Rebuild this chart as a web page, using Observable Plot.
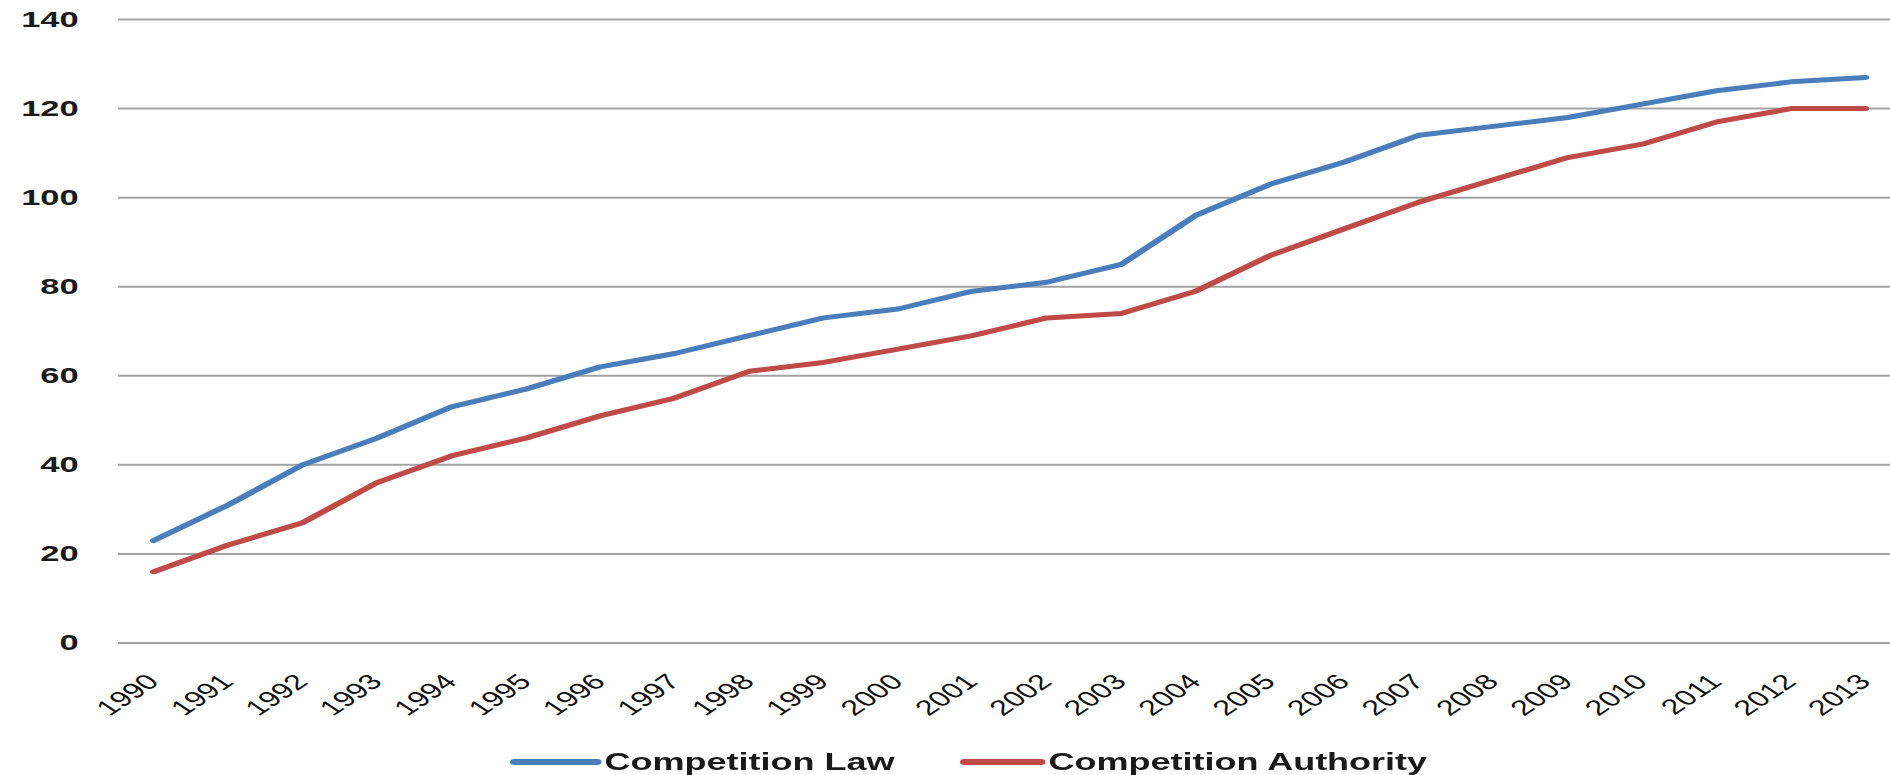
<!DOCTYPE html>
<html>
<head>
<meta charset="utf-8">
<script src="https://cdn.jsdelivr.net/npm/d3@7"></script>
<script src="https://cdn.jsdelivr.net/npm/@observablehq/plot@0.6"></script>
<style>
  html, body { margin: 0; padding: 0; background: #fff; overflow: hidden; }
  #outer { width: 1890px; height: 775px; position: relative; overflow: hidden; }
  /* the original figure is horizontally stretched by 1.5: draw at 1260px and widen */
  #wrap { width: 1260px; height: 775px; position: absolute; left: 0; top: 0;
          transform: scaleX(1.5); transform-origin: 0 0; }
  #legend { position: absolute; left: 0; top: 749px; width: 1260px; height: 26px;
    font-family: "Liberation Sans", Arial, sans-serif; font-weight: bold; font-size: 24px; line-height: 26px; color: #1a1a1a; }
  .item { position: absolute; top: 0; display: flex; align-items: center; height: 26px; white-space: nowrap; }
  .sw { height: 6px; border-radius: 3px; margin-right: 2px; }
</style>
</head>
<body>
<div id="outer">
  <div id="wrap">
    <div id="chart"></div>
    <div id="legend"></div>
  </div>
</div>
<script>
const years = [1990,1991,1992,1993,1994,1995,1996,1997,1998,1999,2000,2001,2002,2003,2004,2005,2006,2007,2008,2009,2010,2011,2012,2013];
const competitionLaw = [23,31,40,46,53,57,62,65,69,73,75,79,81,85,96,103,108,114,116,118,121,124,126,127];
const competitionAuthority = [16,22,27,36,42,46,51,55,61,63,66,69,73,74,79,87,93,99,104,109,112,117,120,120];
const yTicks = [0,20,40,60,80,100,120,140];
const seriesNames = ["Competition Law","Competition Authority"];
const seriesColors = ["#4a7ebb","#be4b48"];

const rows = years.flatMap((yr, i) => [
  {year: yr, value: competitionLaw[i], series: seriesNames[0]},
  {year: yr, value: competitionAuthority[i], series: seriesNames[1]}
]);

const chart = Plot.plot({
  width: 1260,
  height: 735,
  marginLeft: 78.67,
  marginRight: 0,
  marginTop: 19,
  marginBottom: 92.5,
  style: {fontFamily: "'Liberation Sans', Arial, sans-serif", background: "#fff", overflow: "visible"},
  x: {type: "linear", domain: [1989.53, 2013.34], axis: null},
  y: {domain: [0, 140], axis: null},
  color: {domain: seriesNames, range: seriesColors},
  marks: [
    Plot.ruleY(yTicks, {stroke: "#a3a3a3", strokeWidth: 2}),
    Plot.text(yTicks, {y: d => d, text: d => String(d), frameAnchor: "left", textAnchor: "end", dx: -26.7,
      fontSize: 23, fontWeight: "bold", fill: "#1a1a1a"}),
    Plot.text(years, {x: d => d, text: d => String(d), frameAnchor: "bottom", textAnchor: "end",
      lineAnchor: "bottom", rotate: -45, dx: 4.5, dy: 40, fontSize: 21.5, fill: "#111"}),
    Plot.line(rows, {x: "year", y: "value", stroke: "series", strokeWidth: 5,
      strokeLinejoin: "round", strokeLinecap: "round"})
  ]
});
document.getElementById("chart").appendChild(chart);

// legend below the chart (positions in the unstretched frame)
const legendSwatchLeft = [340, 640];
const legendSwatchWidth = [61, 57];
const legend = document.getElementById("legend");
seriesNames.forEach((name, i) => {
  const item = document.createElement("div");
  item.className = "item";
  item.style.left = legendSwatchLeft[i] + "px";
  const sw = document.createElement("div");
  sw.className = "sw";
  sw.style.width = legendSwatchWidth[i] + "px";
  sw.style.background = seriesColors[i];
  const label = document.createElement("span");
  label.textContent = name;
  item.appendChild(sw);
  item.appendChild(label);
  legend.appendChild(item);
});
</script>
</body>
</html>
